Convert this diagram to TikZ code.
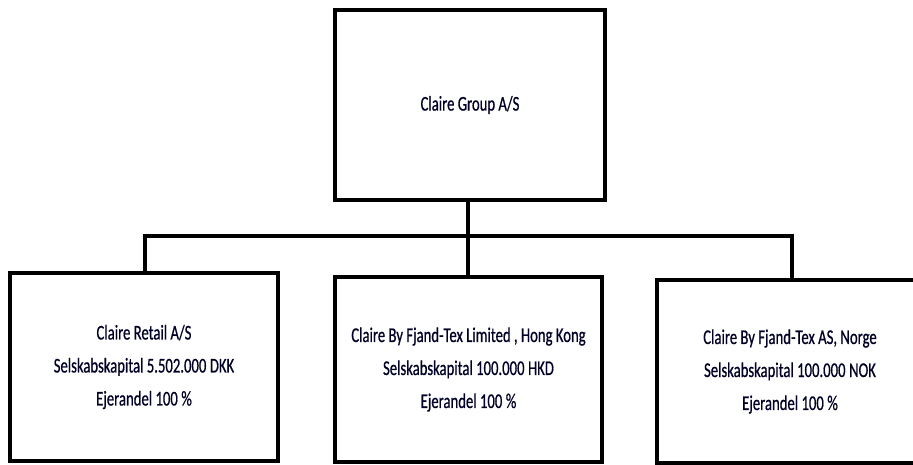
\documentclass[tikz,border=0pt]{standalone}
\usepackage{fontspec}
\newfontfamily\boxfont[FakeStretch=0.7,FakeBold=0.6]{Carlito}
\begin{document}
\begin{tikzpicture}[x=1pt,y=-1pt,
  orgbox/.style={draw=black, line width=4pt, fill=white, inner sep=0pt, align=center,
    font=\boxfont\fontsize{21}{33}\selectfont, text=black!85!blue},
  link/.style={draw=black, line width=4pt}]
\useasboundingbox (0,0) rectangle (913,464);
\node[orgbox, minimum width=270, minimum height=190] (top) at (470,105) {Claire Group A/S};
\node[orgbox, minimum width=268, minimum height=188] (left) at (144,367) {Claire Retail A/S\\Selskabskapital 5.502.000\,DKK\\Ejerandel 100\,\%};
\node[orgbox, minimum width=267, minimum height=185] (mid) at (468.5,369.5) {Claire By Fjand-Tex Limited , Hong Kong\\Selskabskapital 100.000\,HKD\\Ejerandel 100\,\%};
\node[orgbox, minimum width=266, minimum height=183] (right) at (790,371.5) {Claire By Fjand-Tex AS, Norge\\Selskabskapital 100.000\,NOK\\Ejerandel 100\,\%};
\coordinate (bus) at (468,236);
\draw[link] (top.south -| bus) -- (bus);
\draw[link] (bus) -| (left.north -| 145,0);
\draw[link] (bus) -- (mid.north -| bus);
\draw[link] (bus) -| (right.north -| 792,0);
\end{tikzpicture}
\end{document}
